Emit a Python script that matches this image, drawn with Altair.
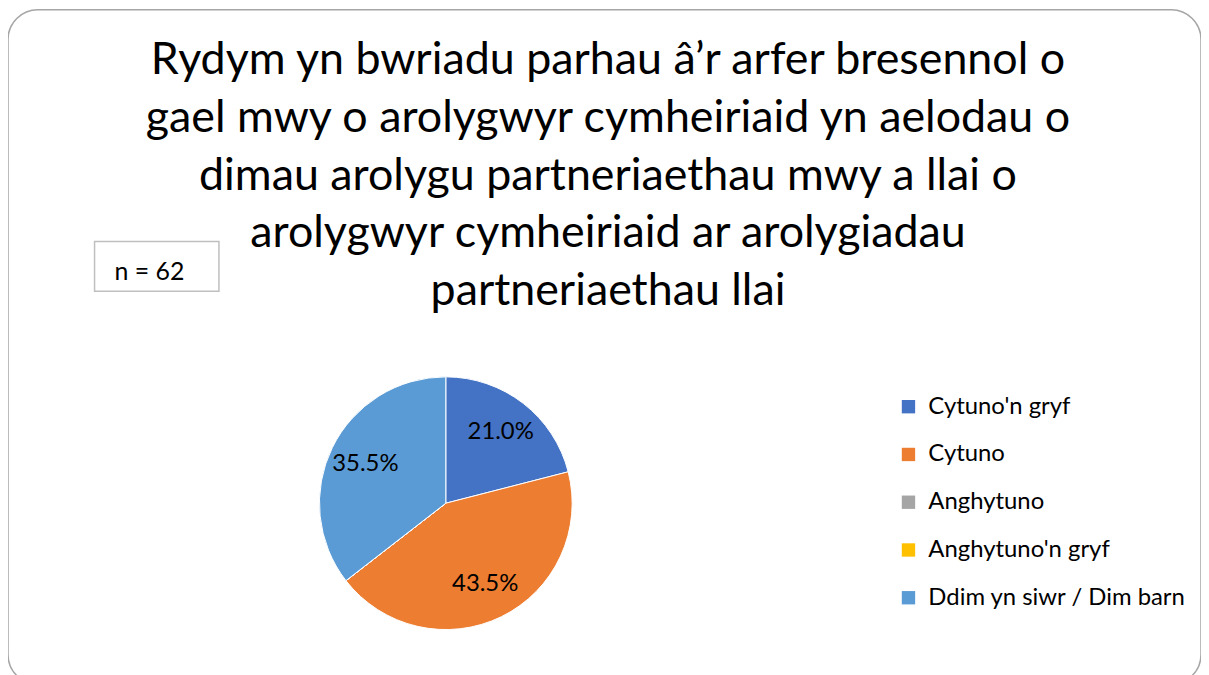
import altair as alt
import pandas as pd

categories = ["Cytuno'n gryf", "Cytuno", "Anghytuno", "Anghytuno'n gryf", "Ddim yn siwr / Dim barn"]
values = [21.0, 43.5, 0.0, 0.0, 35.5]
colors = ["#4472C4", "#ED7D31", "#A5A5A5", "#FFC000", "#5B9BD5"]
title_lines = [
    "Rydym yn bwriadu parhau â’r arfer bresennol o",
    "gael mwy o arolygwyr cymheiriaid yn aelodau o",
    "dimau arolygu partneriaethau mwy a llai o",
    "arolygwyr cymheiriaid ar arolygiadau",
    "partneriaethau llai",
]
n_label = "n = 62"

FONT = "Lato"

df = pd.DataFrame({"cat": categories, "val": values, "order": list(range(len(categories)))})
df["label"] = [f"{v:.1f}%" if v > 0 else "" for v in values]

CX, CY = 440, 496

base = alt.Chart(df).encode(
    theta=alt.Theta("val:Q", stack=True),
    order=alt.Order("order:Q"),
)

pie = base.mark_arc(stroke="white", strokeWidth=1).encode(
    color=alt.Color(
        "cat:N",
        scale=alt.Scale(domain=categories, range=colors),
        sort=categories,
        legend=alt.Legend(
            title=None,
            orient="none",
            legendX=893,
            legendY=387,
            symbolType="square",
            symbolSize=180,
            symbolStrokeWidth=0,
            labelFontSize=24,
            labelFont=FONT,
            labelColor="#000000",
            rowPadding=24,
            labelOffset=8,
            labelLimit=400,
        ),
    ),
    x=alt.value(CX),
    y=alt.value(CY),
    radius=alt.value(127),
)

labels = base.mark_text(fontSize=24, font=FONT, color="#000000").encode(
    text="label:N",
    x=alt.value(CX),
    y=alt.value(CY),
    radius=alt.value(90),
)

title = alt.Chart(pd.DataFrame({"t": ["\n".join(title_lines)]})).mark_text(
    font=FONT, fontSize=45, lineBreak="\n", lineHeight=58, align="center",
    baseline="alphabetic", color="#000000",
).encode(text="t:N", x=alt.value(603), y=alt.value(65))

box = alt.Chart(pd.DataFrame({"t": [n_label]})).mark_rect(
    fill="white", stroke="#BFBFBF", strokeWidth=1.5
).encode(x=alt.value(87), x2=alt.value(212), y=alt.value(233), y2=alt.value(283))

ntext = alt.Chart(pd.DataFrame({"t": [n_label]})).mark_text(
    font=FONT, fontSize=25, align="left", baseline="middle", color="#000000"
).encode(text="t:N", x=alt.value(107), y=alt.value(264))

chart = alt.layer(pie, labels, title, box, ntext).properties(
    width=1199, height=678, padding=0,
    autosize=alt.AutoSizeParams(type="none"),
).configure_view(
    stroke="#A6A6A6", strokeWidth=1.5, cornerRadius=30
)

chart.save("out.html", embed_options={"renderer": "svg", "actions": False})
